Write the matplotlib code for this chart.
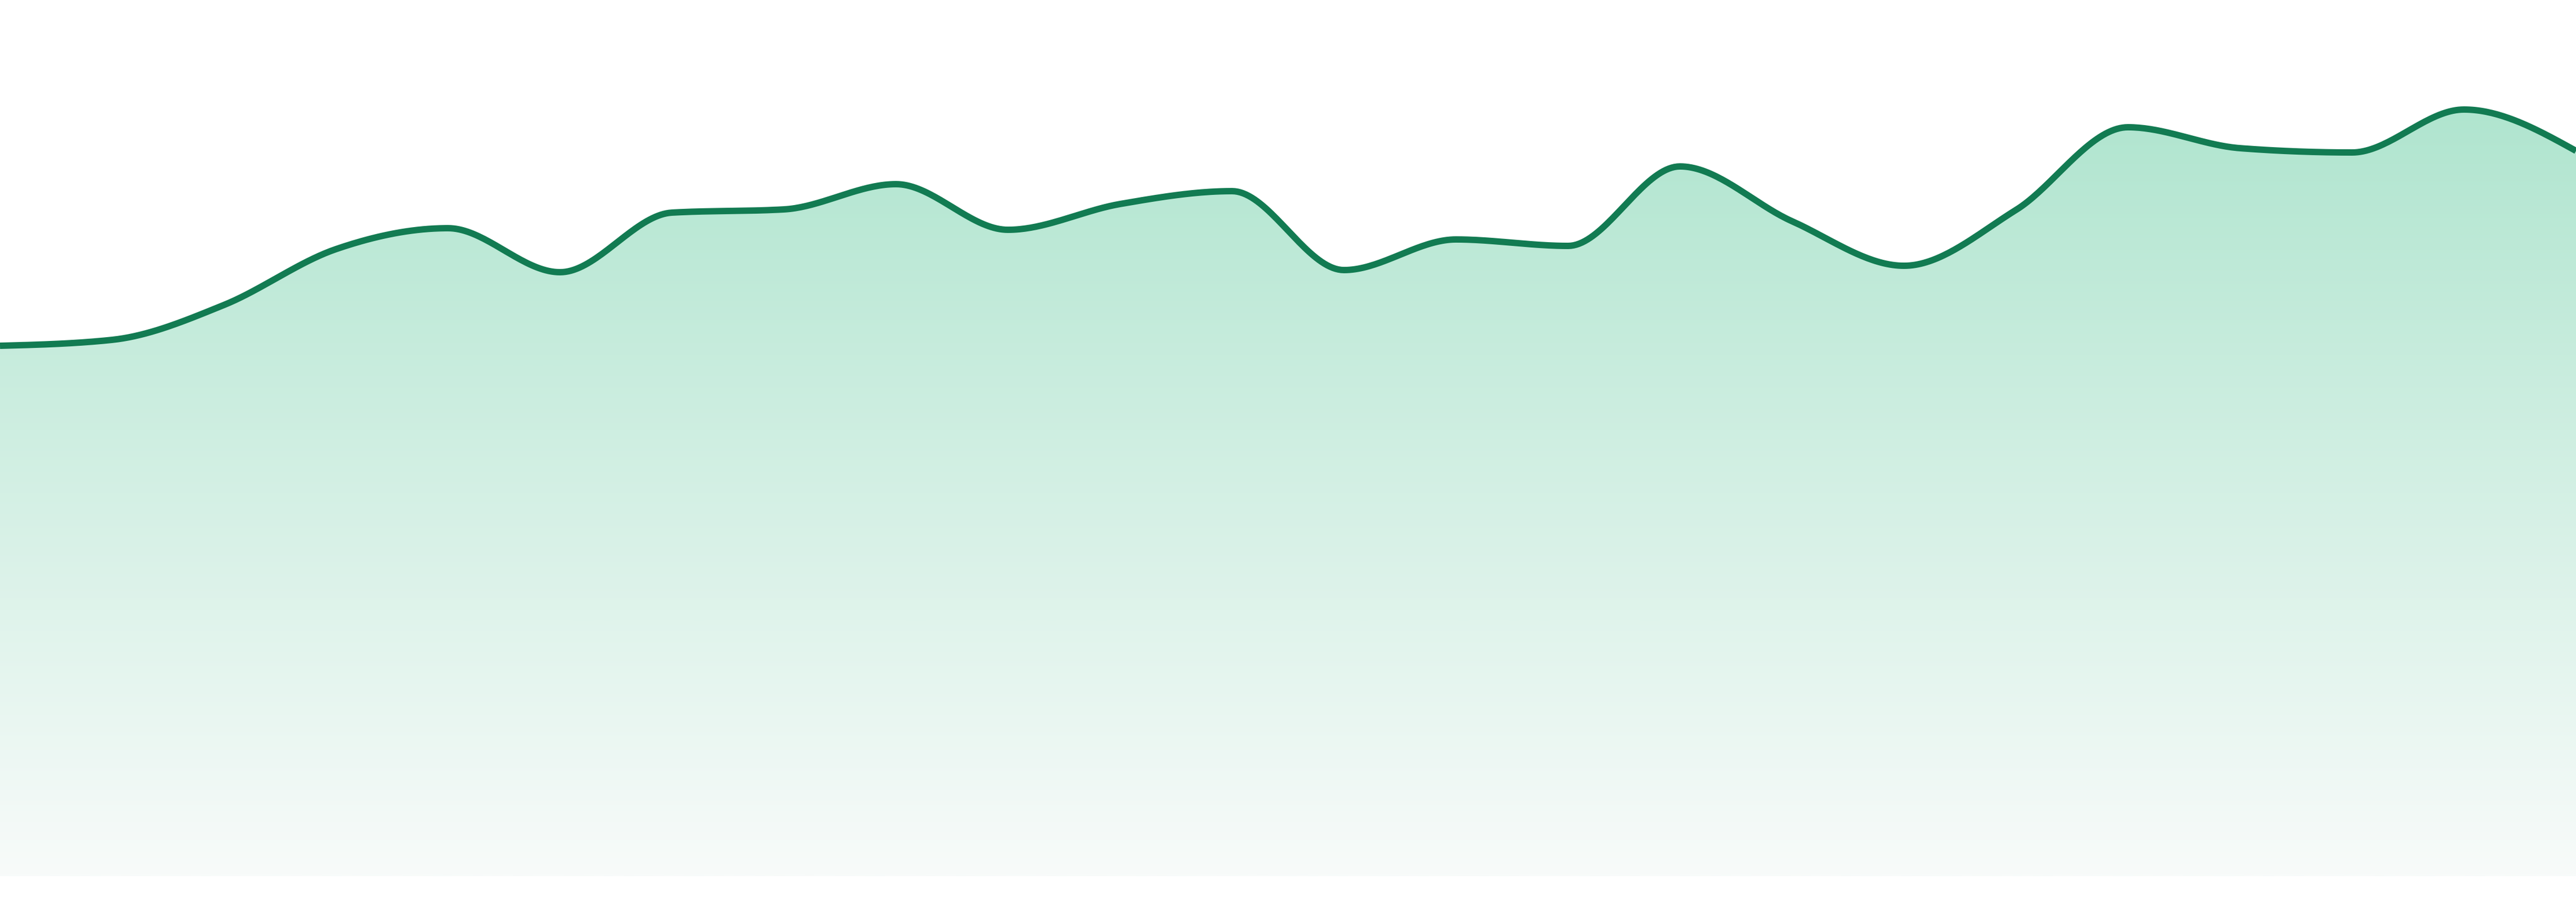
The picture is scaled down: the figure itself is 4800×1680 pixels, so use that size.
import matplotlib
matplotlib.use("Agg")
import matplotlib.pyplot as plt
import numpy as np
from matplotlib.patches import Polygon
from matplotlib.colors import LinearSegmentedColormap

# values (24 evenly spaced points)
points = list(range(24))
values = [988, 999, 1064, 1168, 1207, 1125, 1236, 1242, 1289, 1204, 1252, 1276,
          1129, 1186, 1174, 1322, 1220, 1137, 1241, 1395, 1356, 1348, 1428, 1351]

line_color = "#127b52"
fill_top = "#b0e5cf"
fill_bottom = "#f8fbfa"


def monotone_x(x, y, n=40):
	# same idea as d3 curveMonotoneX
	x = np.asarray(x, float)
	y = np.asarray(y, float)
	h = np.diff(x)
	s = np.diff(y) / h
	t = np.zeros(len(x))
	for i in range(1, len(x) - 1):
		p = (s[i-1] * h[i] + s[i] * h[i-1]) / (h[i-1] + h[i])
		t[i] = (np.sign(s[i-1]) + np.sign(s[i])) * min(abs(s[i-1]), abs(s[i]), 0.5 * abs(p))
	t[0] = (3 * s[0] - t[1]) / 2
	t[-1] = (3 * s[-1] - t[-2]) / 2
	xs, ys = [], []
	for i in range(len(x) - 1):
		u = np.linspace(0, 1, n, endpoint=False)
		h00 = 2*u**3 - 3*u**2 + 1
		h10 = u**3 - 2*u**2 + u
		h01 = -2*u**3 + 3*u**2
		h11 = u**3 - u**2
		xs.append(x[i] + u * h[i])
		ys.append(h00*y[i] + h10*h[i]*t[i] + h01*y[i+1] + h11*h[i]*t[i+1])
	xs.append([x[-1]])
	ys.append([y[-1]])
	return np.concatenate(xs), np.concatenate(ys)


fig = plt.figure(figsize=(48, 16.8), dpi=100)
ax = fig.add_axes([0, 48/1680, 1, 1632/1680])
ax.set_xlim(points[0], points[-1])
ax.set_ylim(0, 1632)
ax.axis("off")

cx, cy = monotone_x(points, values)

# gradient fill under the curve
verts = np.column_stack([np.r_[cx, cx[-1], cx[0]], np.r_[cy, 0, 0]])
poly = Polygon(verts, closed=True, facecolor="none", edgecolor="none")
ax.add_patch(poly)
cmap = LinearSegmentedColormap.from_list("g", [fill_bottom, fill_top])
grad = np.linspace(0, 1, 512).reshape(-1, 1)
img = ax.imshow(grad, cmap=cmap, origin="lower", aspect="auto",
                extent=[points[0], points[-1], 0, max(values)], zorder=1)
img.set_clip_path(poly)

ax.plot(cx, cy, color=line_color, lw=8.6, solid_capstyle="butt", solid_joinstyle="round", zorder=2)

fig.savefig("out.png", dpi=100, facecolor="white")
